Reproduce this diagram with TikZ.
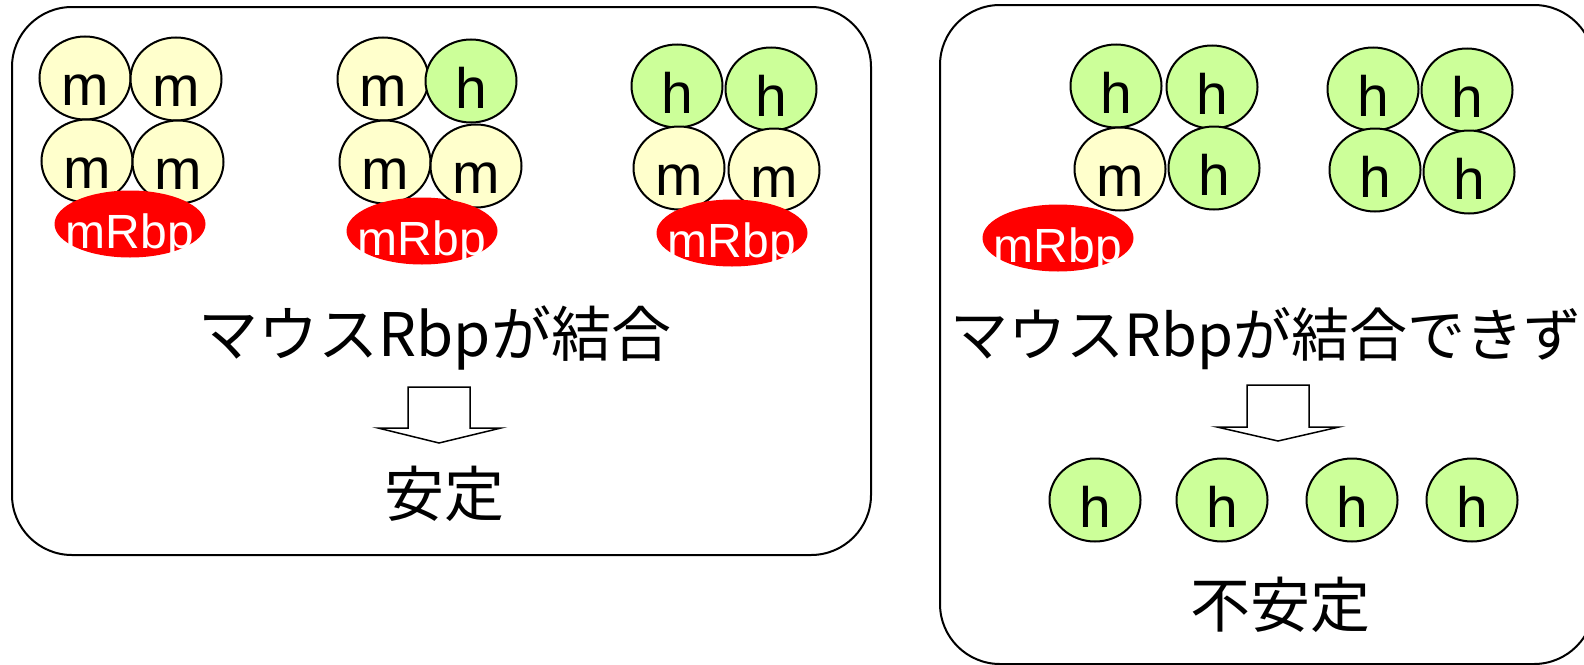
\documentclass[tikz,border=0pt]{standalone}
\usepackage{fontspec}
\setmainfont{Liberation Sans}
\newfontfamily\jp{Noto Sans CJK JP}
\usetikzlibrary{shapes.geometric}
\definecolor{mfill}{HTML}{FFFFCC}
\definecolor{hfill}{HTML}{CCFF99}
\tikzset{
  panel/.style={draw=black, line width=1pt, rounded corners=30pt},
  sub/.style={ellipse, draw=black, line width=1pt, inner sep=0pt, minimum width=45.5pt, minimum height=41.5pt},
  msub/.style={sub, fill=mfill},
  hsub/.style={sub, fill=hfill},
  letter/.style={anchor=base, inner sep=0pt, font=\fontsize{28.5}{30}\selectfont},
  rbp/.style={ellipse, fill=red, draw=none, inner sep=0pt, minimum width=75.5pt, minimum height=33.5pt},
  rbptext/.style={anchor=base, inner sep=0pt, text=white, font=\fontsize{24}{25}\selectfont},
  jptext/.style={inner sep=0pt, font=\jp\fontsize{30}{32}\selectfont},
  jpnarrow/.style={inner sep=0pt, font=\jp\fontsize{29}{31}\selectfont},
  blockarrow/.style={draw=black, line width=0.75pt, fill=white}
}
\newcommand{\subunit}[5]{%
  \node[#5] (#1) at (#2,#3) {};
  \node[letter] (#1t) at ([yshift=-13.5pt]#1.center) {#4};
}
\newcommand{\rbpnode}[3]{%
  \node[rbp] (#1) at (#2,#3) {};
  \node[rbptext] (#1t) at ([yshift=-12pt]#1.center) {mRbp};
}
\begin{document}
\begin{tikzpicture}[x=0.5pt,y=-0.5pt]
\useasboundingbox (0,0) rectangle (1584,664);
\clip (0,0) rectangle (1584,664);
% panels
\draw[panel] (12,7) rectangle (871,555);
\draw[panel] (940,5) rectangle (1594,664);
% group 1
\subunit{a1}{85}{78}{m}{msub}
\subunit{a2}{176}{79}{m}{msub}
\subunit{a3}{87}{161}{m}{msub}
\subunit{a4}{178}{162}{m}{msub}
\rbpnode{ra}{130}{224}
% group 2
\subunit{b1}{383}{79}{m}{msub}
\subunit{b2}{471}{81}{h}{hsub}
\subunit{b3}{385}{162}{m}{msub}
\subunit{b4}{476}{166}{m}{msub}
\rbpnode{rb}{422}{231}
% group 3
\subunit{c1}{677}{86}{h}{hsub}
\subunit{c2}{771}{89}{h}{hsub}
\subunit{c3}{679}{168}{m}{msub}
\subunit{c4}{774}{170}{m}{msub}
\rbpnode{rc}{732}{233}
% right groups
\subunit{d1}{1116}{86}{h}{hsub}
\subunit{d2}{1212}{87}{h}{hsub}
\subunit{d3}{1120}{169}{m}{msub}
\subunit{d4}{1214}{168}{h}{hsub}
\subunit{e1}{1373}{89}{h}{hsub}
\subunit{e2}{1467}{90}{h}{hsub}
\subunit{e3}{1375}{170}{h}{hsub}
\subunit{e4}{1469}{172}{h}{hsub}
\rbpnode{rd}{1058}{238}
% texts left
\node[jptext, anchor=base] (t1) at (435,356) {マウスRbpが結合};
\draw[blockarrow] (408,387) -- (470,387) -- (470,428) -- (501,428) -- (439,443) -- (378,428) -- (408,428) -- cycle;
\node[jptext] (t2) at (444,494) {安定};
% texts right
\node[jpnarrow, anchor=base west] (t3) at (950,356) {マウスRbpが結合できず};
\draw[blockarrow] (1247,385) -- (1309,385) -- (1309,427) -- (1339,427) -- (1278,441) -- (1217,427) -- (1247,427) -- cycle;
\subunit{f1}{1095}{500}{h}{hsub}
\subunit{f2}{1222}{500}{h}{hsub}
\subunit{f3}{1352}{500}{h}{hsub}
\subunit{f4}{1472}{500}{h}{hsub}
\node[jptext] (t4) at (1280,605) {不安定};
\end{tikzpicture}
\end{document}
